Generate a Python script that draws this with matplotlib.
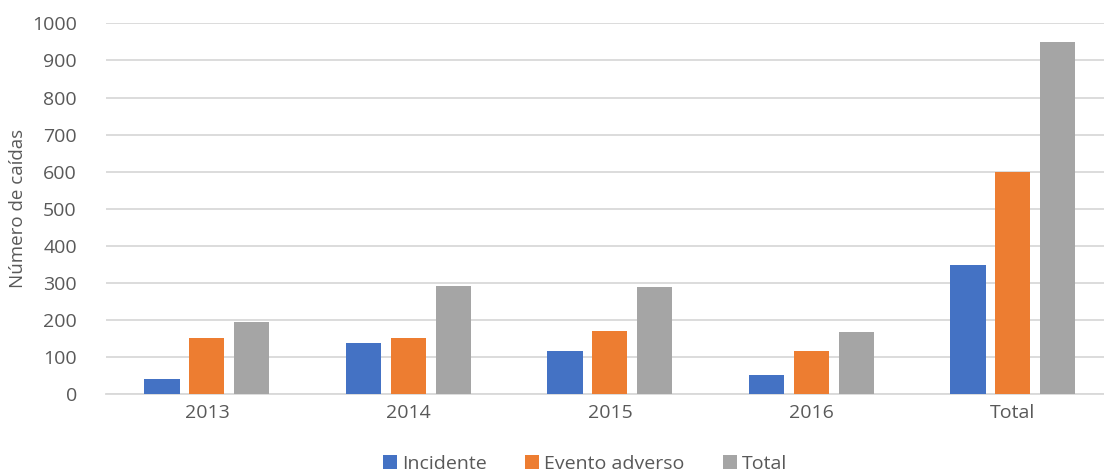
import matplotlib
matplotlib.use("Agg")
import matplotlib.pyplot as plt
import numpy as np

categories = ["2013", "2014", "2015", "2016", "Total"]
incidente = [42, 139, 117, 51, 349]
evento_adverso = [153, 153, 170, 118, 600]
total = [195, 292, 288, 169, 950]
series_names = ["Incidente", "Evento adverso", "Total"]
colors = ["#4472C4", "#ED7D31", "#A5A5A5"]

plt.rcParams['font.family'] = ['Open Sans', 'DejaVu Sans']
txt = "#595959"

fig = plt.figure(figsize=(11.04, 4.75), dpi=100)
ax = fig.add_axes([106/1104, 1 - 394.3/475, 998/1104, (394.3 - 23.3)/475])

x = np.arange(len(categories))
w = 0.174
step = 0.223
for i, (vals, name, c) in enumerate(zip([incidente, evento_adverso, total], series_names, colors)):
    ax.bar(x + (i - 1) * step, vals, width=w, color=c, label=name, zorder=3)

ax.set_ylim(0, 1000)
ax.set_xlim(-0.501, -0.501 + 998/201.5)
ax.set_yticks(range(0, 1001, 100))
ax.yaxis.grid(True, color="#D9D9D9", linewidth=1.3, zorder=0)
ax.set_axisbelow(True)
for s in ["top", "right", "left"]:
    ax.spines[s].set_visible(False)
ax.spines["bottom"].set_color("#D9D9D9")
ax.spines["bottom"].set_linewidth(1.3)
ax.tick_params(axis="both", length=0, labelsize=14, colors=txt, pad=7)
ax.tick_params(axis="y", pad=21)
ax.set_xticks(x)
ax.set_xticklabels(categories)
ax.set_ylabel("Número de caídas", fontsize=13.5, color=txt)
ax.yaxis.set_label_coords(-0.079, 0.5)

leg = fig.legend(loc="center", bbox_to_anchor=(0.53, 1 - 464/475), ncol=3, frameon=False,
                 fontsize=14, handlelength=0.7, handleheight=0.7, handletextpad=0.25,
                 columnspacing=2.0)
for t in leg.get_texts():
    t.set_color(txt)

fig.savefig("out.png", dpi=100)
